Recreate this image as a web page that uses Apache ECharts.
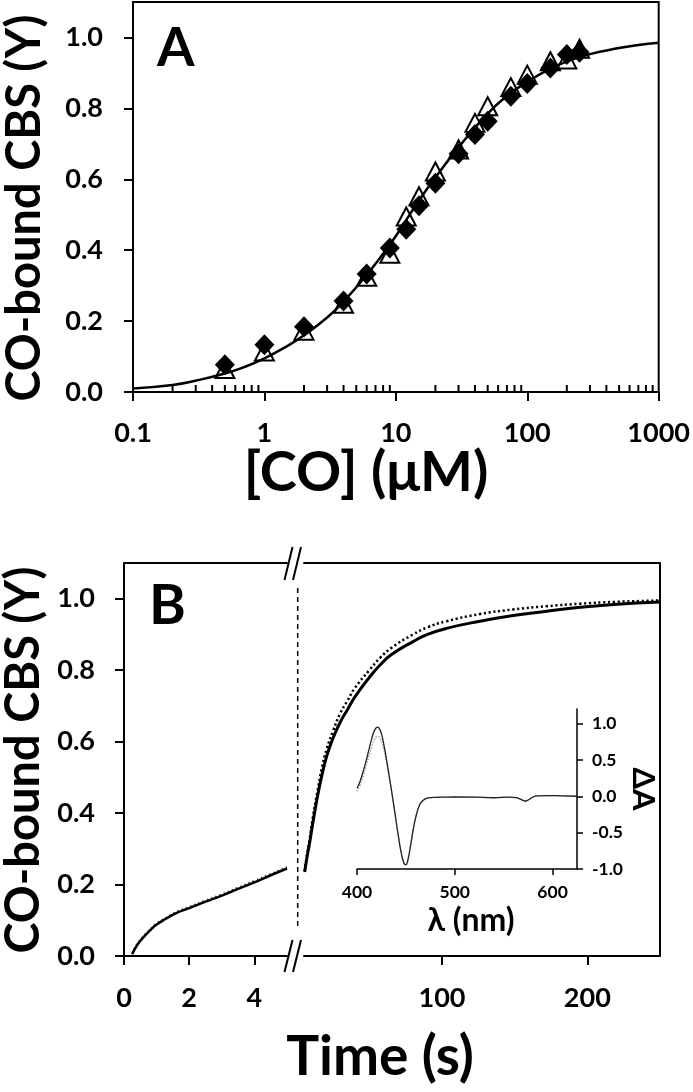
<!DOCTYPE html>
<html><head><meta charset="utf-8">
<script src="https://cdn.jsdelivr.net/npm/echarts@6/dist/echarts.min.js"></script>
<style>html,body{margin:0;padding:0;background:#fff}#c{width:693px;height:1092px}</style>
</head><body><div id="c"></div>
<script>
// ---------- Panel A data ----------
const concCO = [0.5, 1, 2, 4, 6, 9, 12, 15, 20, 30, 40, 50, 75, 100, 150, 200, 250];
const bindingDiamond = [0.077, 0.133, 0.184, 0.257, 0.333, 0.406, 0.459, 0.525, 0.589, 0.672, 0.726, 0.764, 0.834, 0.870, 0.914, 0.952, 0.958];
const bindingTriangle = [0.065, 0.114, 0.173, 0.249, 0.325, 0.390, 0.495, 0.552, 0.622, 0.684, 0.759, 0.806, 0.860, 0.895, 0.933, 0.938, 0.968];
const fitConc = [0.1, 0.2, 0.3, 0.5, 0.7, 1, 1.5, 2, 3, 4, 6, 8, 10, 15, 20, 30, 50, 70, 100, 150, 200, 300, 500, 700, 1000];
const fitY = [0.010, 0.020, 0.032, 0.052, 0.070, 0.095, 0.130, 0.160, 0.210, 0.255, 0.330, 0.390, 0.440, 0.540, 0.605, 0.690, 0.785, 0.835, 0.875, 0.912, 0.932, 0.953, 0.970, 0.979, 0.985];
const minorTicksA = [0.2,0.3,0.4,0.5,0.6,0.7,0.8,0.9, 2,3,4,5,6,7,8,9, 20,30,40,50,60,70,80,90, 200,300,400,500,600,700,800,900];
const yTicks = [0, 0.2, 0.4, 0.6, 0.8, 1.0];

// ---------- Panel B data ----------
const timeEarly = [0.25, 0.4, 0.6, 0.8, 1.0, 1.3, 1.6, 2, 2.5, 3, 3.5, 4, 4.5, 5];
const yEarlySolid = [0.005, 0.030, 0.053, 0.072, 0.088, 0.105, 0.120, 0.134, 0.152, 0.169, 0.188, 0.206, 0.226, 0.245];
const yEarlyDotted = [0.008, 0.034, 0.057, 0.075, 0.092, 0.108, 0.124, 0.138, 0.156, 0.173, 0.192, 0.211, 0.230, 0.249];
const timeLate = [5.5, 7, 9, 11, 14, 17, 20.7, 25, 30, 35, 40, 50, 57.5, 65, 80, 90, 103, 126, 149, 172, 195, 218, 250];
const yLateSolid = [0.235, 0.275, 0.320, 0.370, 0.440, 0.500, 0.560, 0.610, 0.655, 0.690, 0.725, 0.780, 0.815, 0.843, 0.880, 0.900, 0.917, 0.937, 0.953, 0.965, 0.976, 0.984, 0.991];
const yLateDotted = [0.238, 0.282, 0.330, 0.385, 0.455, 0.520, 0.580, 0.630, 0.680, 0.715, 0.750, 0.800, 0.835, 0.862, 0.900, 0.920, 0.937, 0.957, 0.970, 0.979, 0.986, 0.991, 0.995];
const earlyTimeTicks = [0, 2, 4];
const lateTimeTicks = [100, 200];

// ---------- Inset data ----------
const wavelength = [400,403,406,409,412,415,418,421,424,427,430,433,436,439,442,445,448,450,452,455,458,461,464,467,470,475,480,490,500,520,540,555,563,568,572,576,580,585,595,610,625];
const dASolid = [0.11,0.20,0.33,0.47,0.63,0.79,0.91,0.95,0.90,0.74,0.52,0.27,0.02,-0.25,-0.52,-0.76,-0.92,-0.94,-0.88,-0.66,-0.42,-0.24,-0.12,-0.065,-0.035,-0.02,-0.015,-0.012,-0.01,-0.012,-0.02,-0.012,-0.02,-0.045,-0.065,-0.045,-0.01,0.005,0.01,0.005,0.0];
const dADotted = [0.07,0.15,0.27,0.40,0.54,0.68,0.79,0.82,0.79,0.67,0.48,0.25,0.01,-0.25,-0.52,-0.76,-0.92,-0.94,-0.88,-0.66,-0.42,-0.24,-0.12,-0.065,-0.035,-0.02,-0.015,-0.012,-0.01,-0.012,-0.02,-0.012,-0.02,-0.045,-0.065,-0.045,-0.01,0.005,0.01,0.005,0.0];
const insetXTicks = [400, 500, 600];
const insetYTicks = [-1, -0.5, 0, 0.5, 1];

const FONT = 'Lato';
const zip = (a, b) => a.map((v, i) => [v, b[i]]);
const bold = (size) => ({ fontFamily: FONT, fontWeight: 'bold', fontSize: size, color: '#000' });
const AX = { color: '#000', width: 2 };

const chart = echarts.init(document.getElementById('c'), null, { renderer: 'canvas' });

const option = {
  backgroundColor: '#fff',
  animation: false,
  grid: [
    { left: 133, top: 2, width: 529, height: 390, show: true, borderColor: '#000', borderWidth: 2 },
    { left: 124, top: 563, width: 163, height: 393 },
    { left: 304, top: 563, width: 356, height: 393 },
    { left: 357, top: 709, width: 220, height: 160 }
  ],
  xAxis: [
    { gridIndex: 0, type: 'log', logBase: 10, min: 0.1, max: 1000,
      axisLine: { lineStyle: AX, onZero: false }, splitLine: { show: false },
      axisTick: { length: 9, lineStyle: AX },
      minorTick: { show: false },
      axisLabel: { ...bold(27), margin: 28, formatter: v => String(v) } },
    { gridIndex: 1, type: 'value', min: 0, max: 5,
      axisLine: { lineStyle: AX, onZero: false }, splitLine: { show: false },
      axisTick: { length: 9, lineStyle: AX, customValues: earlyTimeTicks },
      axisLabel: { ...bold(27), margin: 29, customValues: earlyTimeTicks } },
    { gridIndex: 1, type: 'value', position: 'top', min: 0, max: 5,
      axisLine: { lineStyle: AX, onZero: false }, splitLine: { show: false },
      axisTick: { show: false }, axisLabel: { show: false } },
    { gridIndex: 2, type: 'value', min: 5, max: 250,
      axisLine: { lineStyle: AX, onZero: false }, splitLine: { show: false },
      axisTick: { length: 9, lineStyle: AX, customValues: lateTimeTicks },
      axisLabel: { ...bold(27), margin: 29, customValues: lateTimeTicks } },
    { gridIndex: 2, type: 'value', position: 'top', min: 5, max: 250,
      axisLine: { lineStyle: AX, onZero: false }, splitLine: { show: false },
      axisTick: { show: false }, axisLabel: { show: false } },
    { gridIndex: 3, type: 'value', min: 400, max: 625,
      axisLine: { lineStyle: { color: '#000', width: 1.5 }, onZero: false }, splitLine: { show: false },
      axisTick: { length: 6, lineStyle: { color: '#000', width: 1.5 }, customValues: insetXTicks },
      axisLabel: { ...bold(17.5), margin: 14, customValues: insetXTicks } }
  ],
  yAxis: [
    { gridIndex: 0, type: 'value', min: 0, max: 1.1,
      axisLine: { show: true, lineStyle: AX, onZero: false }, splitLine: { show: false },
      axisTick: { length: 9, lineStyle: AX, customValues: yTicks },
      axisLabel: { ...bold(27), margin: 30, customValues: yTicks, formatter: v => v.toFixed(1) } },
    { gridIndex: 1, type: 'value', min: 0, max: 1.1,
      axisLine: { show: true, lineStyle: AX, onZero: false }, splitLine: { show: false },
      axisTick: { length: 9, lineStyle: AX, customValues: yTicks },
      axisLabel: { ...bold(27), margin: 29, customValues: yTicks, formatter: v => v.toFixed(1) } },
    { gridIndex: 2, type: 'value', position: 'right', min: 0, max: 1.1,
      axisLine: { show: true, lineStyle: AX, onZero: false }, splitLine: { show: false },
      axisTick: { show: false }, axisLabel: { show: false } },
    { gridIndex: 3, type: 'value', position: 'right', min: -1, max: 1.2,
      axisLine: { show: true, lineStyle: { color: '#000', width: 1.5 }, onZero: false }, splitLine: { show: false },
      axisTick: { length: 6, lineStyle: { color: '#000', width: 1.5 }, customValues: insetYTicks },
      axisLabel: { ...bold(17.5), margin: 15, customValues: insetYTicks, formatter: v => v.toFixed(1) } }
  ],
  series: [
    { type: 'custom', xAxisIndex: 0, yAxisIndex: 0, silent: true, clip: false,
      data: minorTicksA.map(v => [v, 0]),
      renderItem: (params, api) => {
        const p = api.coord([api.value(0), 0]);
        return { type: 'line', shape: { x1: p[0], y1: p[1], x2: p[0], y2: p[1] - 7 }, style: { stroke: '#000', lineWidth: 2 } };
      } },
    { type: 'line', xAxisIndex: 0, yAxisIndex: 0, data: zip(fitConc, fitY), smooth: true, showSymbol: false,
      lineStyle: { color: '#000', width: 2.5 }, z: 2 },
    { type: 'scatter', xAxisIndex: 0, yAxisIndex: 0, data: zip(concCO, bindingTriangle), symbol: 'triangle', symbolSize: [19, 18],
      itemStyle: { color: 'rgba(0,0,0,0)', borderColor: '#000', borderWidth: 2, opacity: 1 }, z: 3 },
    { type: 'scatter', xAxisIndex: 0, yAxisIndex: 0, data: zip(concCO, bindingDiamond), symbol: 'diamond', symbolSize: [20, 21],
      itemStyle: { color: '#000', opacity: 1 }, z: 4 },

    { type: 'line', xAxisIndex: 1, yAxisIndex: 1, data: zip(timeEarly, yEarlyDotted), smooth: true, showSymbol: false,
      lineStyle: { color: '#333', width: 1.5, type: [1.5, 3] } },
    { type: 'line', xAxisIndex: 1, yAxisIndex: 1, data: zip(timeEarly, yEarlySolid), smooth: true, showSymbol: false,
      lineStyle: { color: '#000', width: 2.5 } },
    { type: 'line', xAxisIndex: 3, yAxisIndex: 2, data: zip(timeLate, yLateDotted), smooth: true, showSymbol: false,
      lineStyle: { color: '#000', width: 2.5, type: [2.2, 2.6] } },
    { type: 'line', xAxisIndex: 3, yAxisIndex: 2, data: zip(timeLate, yLateSolid), smooth: true, showSymbol: false,
      lineStyle: { color: '#000', width: 3 } },

    { type: 'line', xAxisIndex: 5, yAxisIndex: 3, data: zip(wavelength, dADotted), smooth: true, showSymbol: false,
      lineStyle: { color: '#999', width: 1.3, type: [1.5, 1.5] } },
    { type: 'line', xAxisIndex: 5, yAxisIndex: 3, data: zip(wavelength, dASolid), smooth: true, showSymbol: false,
      lineStyle: { color: '#222', width: 1.3 } }
  ],
  graphic: [
    { type: 'text', left: 157, top: 22, style: { text: 'A', font: 'bold 54px Lato', fill: '#000' } },
    { type: 'text', left: 149, top: 578, style: { text: 'B', font: 'bold 56px Lato', fill: '#000' } },
    { type: 'text', x: 25, y: 208, rotation: Math.PI / 2,
      style: { text: 'CO-bound CBS (Y)', font: 'bold 47px Lato', fill: '#000', align: 'center', verticalAlign: 'middle' } },
    { type: 'text', x: 24, y: 760, rotation: Math.PI / 2,
      style: { text: 'CO-bound CBS (Y)', font: 'bold 47px Lato', fill: '#000', align: 'center', verticalAlign: 'middle' } },
    { type: 'text', x: 366, y: 473,
      style: { text: '[CO] (μM)', font: 'bold 56px Lato', fill: '#000', align: 'center', verticalAlign: 'middle' } },
    { type: 'text', x: 380, y: 1057,
      style: { text: 'Time (s)', font: 'bold 55px Lato', fill: '#000', align: 'center', verticalAlign: 'middle' } },
    { type: 'text', x: 471, y: 921,
      style: { text: 'λ (nm)', font: 'bold 32px Lato', fill: '#000', align: 'center', verticalAlign: 'middle' } },
    { type: 'text', x: 643, y: 789, rotation: -Math.PI / 2,
      style: { text: 'ΔA', font: 'bold 31px Lato', fill: '#000', align: 'center', verticalAlign: 'middle' } },
    { type: 'line', shape: { x1: 297.7, y1: 588, x2: 297.7, y2: 927 }, style: { stroke: '#000', lineWidth: 1.5, lineDash: [5, 4] } },
    { type: 'line', shape: { x1: 284.5, y1: 580, x2: 292.5, y2: 547 }, style: { stroke: '#000', lineWidth: 2 } },
    { type: 'line', shape: { x1: 293, y1: 580, x2: 301, y2: 547 }, style: { stroke: '#000', lineWidth: 2 } },
    { type: 'line', shape: { x1: 284.5, y1: 972, x2: 292.5, y2: 940 }, style: { stroke: '#000', lineWidth: 2 } },
    { type: 'line', shape: { x1: 293, y1: 972, x2: 301, y2: 940 }, style: { stroke: '#000', lineWidth: 2 } }
  ]
};
chart.setOption(option);
</script></body></html>
